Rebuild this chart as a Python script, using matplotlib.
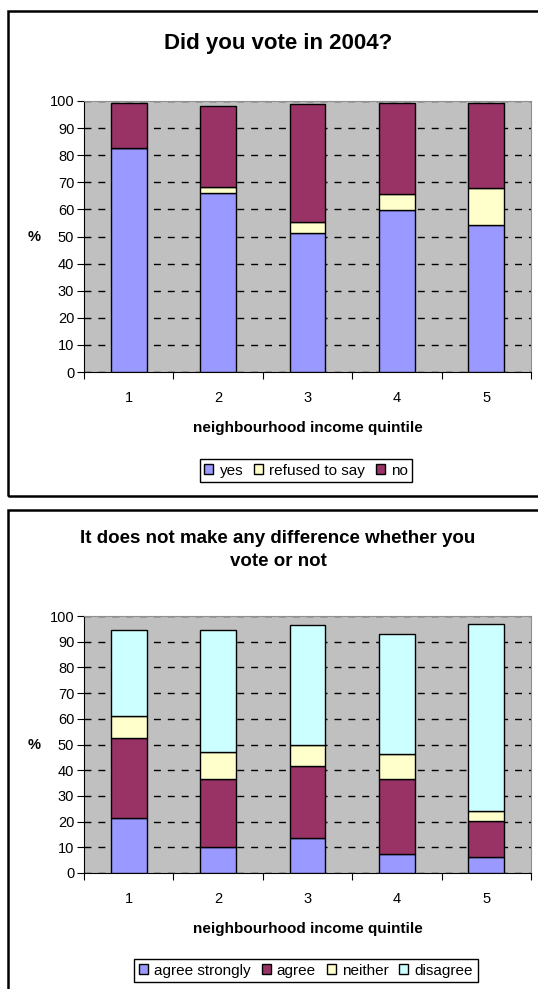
import numpy as np
import matplotlib
matplotlib.use("Agg")
import matplotlib.pyplot as plt
from matplotlib.patches import Rectangle

plt.rcParams['font.family'] = ['Liberation Sans', 'DejaVu Sans']

quintiles = ['1', '2', '3', '4', '5']

# chart 1: did you vote in 2004
vote_labels = ['yes', 'refused to say', 'no']
vote_yes = [82.8, 66.2, 51.2, 59.8, 54.4]
vote_refused = [0.0, 2.1, 4.0, 5.8, 13.4]
vote_no = [16.6, 30.0, 43.7, 33.8, 31.6]

# chart 2: does not make any difference
diff_labels = ['agree strongly', 'agree', 'neither', 'disagree']
diff_agree_strongly = [21.4, 10.1, 13.6, 7.3, 6.2]
diff_agree = [31.3, 26.4, 28.1, 29.2, 13.9]
diff_neither = [8.2, 10.4, 8.0, 9.7, 4.2]
diff_disagree = [33.8, 47.8, 46.8, 46.8, 72.7]

c_blue = '#9999FF'
c_maroon = '#993366'
c_yellow = '#FFFFCC'
c_cyan = '#CCFFFF'

W, H = 538, 989
fig = plt.figure(figsize=(W / 100, H / 100), dpi=100)


def px(x, y):
    return x / W, 1 - y / H


def stacked(ax, series, colors, labels):
    x = np.arange(1, len(quintiles) + 1)
    bottom = np.zeros(len(quintiles))
    for vals, col, lab in zip(series, colors, labels):
        ax.bar(x, vals, width=0.4, bottom=bottom, color=col,
               edgecolor='black', linewidth=1, label=lab, zorder=3)
        bottom += np.array(vals)
    ax.set_facecolor('#C0C0C0')
    ax.set_xlim(0.5, 5.5)
    ax.set_ylim(0, 100)
    ax.set_yticks(np.arange(0, 101, 10))
    ax.yaxis.grid(True, color='black', linestyle=(0, (5, 5)), linewidth=1)
    ax.set_axisbelow(True)
    ax.set_xticks(np.arange(0.5, 5.6, 1))
    ax.set_xticklabels([])
    ax.set_xticks(x, minor=True)
    ax.set_xticklabels(quintiles, minor=True)
    ax.tick_params(axis='x', which='minor', length=0, pad=14, labelsize=10.5)
    ax.tick_params(axis='x', which='major', length=5, direction='out')
    ax.tick_params(axis='y', length=5, direction='out', labelsize=10.5, pad=2)
    for s in ['top', 'right']:
        ax.spines[s].set_color('#909090')
    for s in ['left', 'bottom']:
        ax.spines[s].set_color('black')
    ax.set_xlabel('neighbourhood income quintile', fontsize=11,
                  fontweight='bold', labelpad=11)


def legend(handles, labels, y, ncol):
    fig.legend(handles, labels, loc='upper center', bbox_to_anchor=px(306, y),
               ncol=ncol, fontsize=11, frameon=True, fancybox=False,
               edgecolor='black', handlelength=0.6, handleheight=0.6,
               handletextpad=0.4, columnspacing=0.7, borderpad=0.3,
               borderaxespad=0, framealpha=1)


# top chart
ax1 = fig.add_axes([84 / W, 1 - 372 / H, (531 - 84) / W, (372 - 101) / H])
stacked(ax1, [vote_yes, vote_refused, vote_no],
        [c_blue, c_yellow, c_maroon], vote_labels)
fig.text(*px(278, 43), 'Did you vote in 2004?', ha='center', va='center',
         fontsize=16, fontweight='bold')
fig.text(*px(34, 237), '%', ha='center', va='center', fontsize=10.5,
         fontweight='bold')
h1, l1 = ax1.get_legend_handles_labels()
legend(h1, l1, 459, 3)

# bottom chart
ax2 = fig.add_axes([84 / W, 1 - 873 / H, (531 - 84) / W, (873 - 616) / H])
stacked(ax2, [diff_agree_strongly, diff_agree, diff_neither, diff_disagree],
        [c_blue, c_maroon, c_yellow, c_cyan], diff_labels)
fig.text(*px(278, 550), 'It does not make any difference whether you\nvote or not',
         ha='center', va='center', fontsize=13.5, fontweight='bold',
         linespacing=1.5)
fig.text(*px(34, 745), '%', ha='center', va='center', fontsize=10.5,
         fontweight='bold')
h2, l2 = ax2.get_legend_handles_labels()
legend(h2, l2, 959, 4)

# outer chart borders
for top, bot in [(11, 496), (510, 1000)]:
    x0, y0 = px(8, bot)
    fig.patches.append(Rectangle((x0, y0), (545 - 8) / W, (bot - top) / H,
                                 transform=fig.transFigure, fill=False,
                                 edgecolor='black', linewidth=1.8))

plt.savefig('out.png', dpi=100)
